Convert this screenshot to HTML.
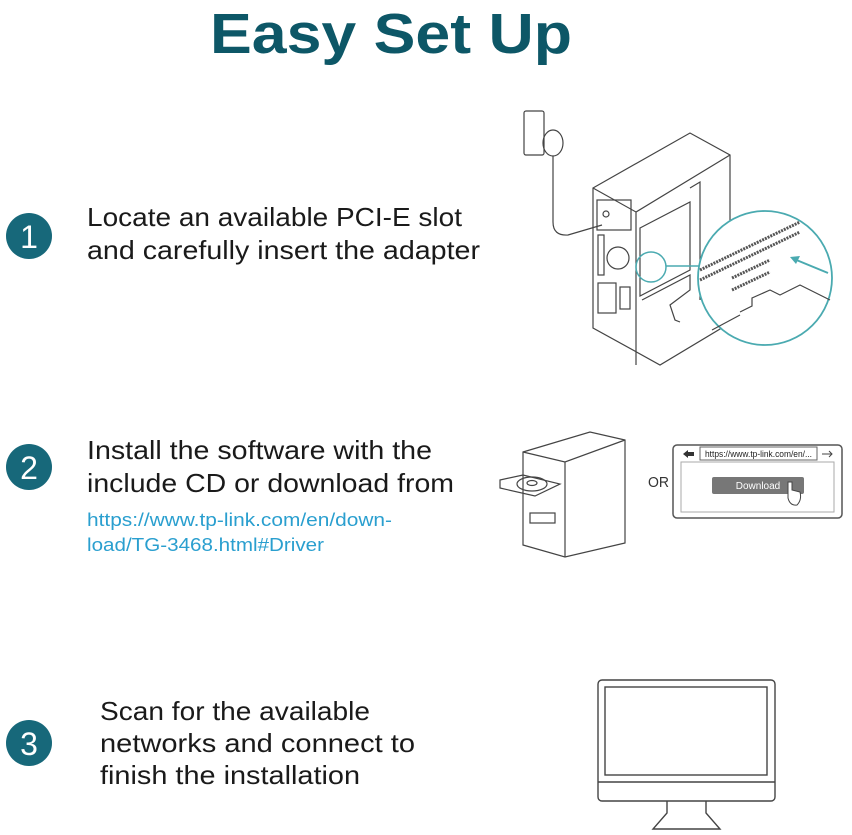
<!DOCTYPE html>
<html><head><meta charset="utf-8"><style>
html,body{margin:0;padding:0;background:#fff;}
svg{display:block;}
text{font-family:"Liberation Sans",sans-serif;}
</style></head><body>
<svg width="852" height="835" viewBox="0 0 852 835" xmlns="http://www.w3.org/2000/svg">
<text x="391" y="53" font-size="57" font-weight="bold" fill="#0d5767" text-anchor="middle" textLength="362" lengthAdjust="spacingAndGlyphs">Easy Set Up</text>

<g fill="#17687a">
<circle cx="29" cy="236" r="23"/><circle cx="29" cy="467" r="23"/><circle cx="29" cy="743" r="23"/>
</g>
<g fill="#fff" font-size="32" text-anchor="middle">
<text x="29" y="248">1</text><text x="29" y="479">2</text><text x="29" y="755">3</text>
</g>
<g fill="#1a1a1a" font-size="26">
<text x="87" y="226" textLength="375" lengthAdjust="spacingAndGlyphs">Locate an available PCI-E slot</text>
<text x="87" y="259" textLength="393" lengthAdjust="spacingAndGlyphs">and carefully insert the adapter</text>
<text x="87" y="459" textLength="345" lengthAdjust="spacingAndGlyphs">Install the software with the</text>
<text x="87" y="492" textLength="367" lengthAdjust="spacingAndGlyphs">include CD or download from</text>
<text x="100" y="720" textLength="270" lengthAdjust="spacingAndGlyphs">Scan for the available</text>
<text x="100" y="752" textLength="315" lengthAdjust="spacingAndGlyphs">networks and connect to</text>
<text x="100" y="784" textLength="260" lengthAdjust="spacingAndGlyphs">finish the installation</text>
</g>
<g fill="#2a9fcf" font-size="18">
<text x="87" y="526" textLength="305" lengthAdjust="spacingAndGlyphs">https://www.tp-link.com/en/down-</text>
<text x="87" y="551" textLength="237" lengthAdjust="spacingAndGlyphs">load/TG-3468.html#Driver</text>
</g>

<!-- Step1 illustration -->
<g fill="none" stroke="#444" stroke-width="1.2">
<rect x="524" y="111" width="20" height="44" rx="2"/>
<ellipse cx="553" cy="143" rx="10" ry="13"/>
<path d="M553 156 V222 Q553 236 568 235 L602 225"/>
<path d="M593 188 L690 133 L730 155 L730 323 L660 365 L593 328 Z"/>
<path d="M593 188 L636 212 L730 155 M636 212 V365"/>
<rect x="597" y="200" width="34" height="30"/>
<circle cx="606" cy="214" r="3"/>
<rect x="598" y="235" width="6" height="40"/>
<circle cx="618" cy="258" r="11"/>
<rect x="598" y="283" width="18" height="30"/>
<rect x="620" y="287" width="10" height="22"/>
<path d="M640 228 L690 202 V270 L640 296 Z"/>
<path d="M690 188 L700 182 V300"/>
<path d="M642 300 L690 275 L690 290 L670 305 L675 320 L680 322"/>
</g>
<circle cx="651" cy="267" r="15" fill="none" stroke="#4aaab0" stroke-width="1.5"/>
<line x1="666" y1="266" x2="705" y2="266" stroke="#4aaab0" stroke-width="1.5"/>
<circle cx="765" cy="278" r="67" fill="#fff" stroke="#4aaab0" stroke-width="1.8"/>
<g fill="none" stroke="#555" stroke-width="3" stroke-dasharray="2 1">
<path d="M700 270 L800 222"/><path d="M700 280 L800 232"/>
<path d="M732 278 L770 260"/><path d="M732 290 L770 272"/>
</g>
<g fill="none" stroke="#444" stroke-width="1.2">
<path d="M740 312 L752 306 V298 L770 290 L780 295 L800 285 L830 300"/>
<path d="M712 330 L740 315"/>
</g>
<path d="M828 273 L794 259" stroke="#4aaab0" stroke-width="2"/>
<path d="M790 257 L800 256 L796 264 Z" fill="#4aaab0"/>

<!-- Step2 CD computer -->
<g fill="none" stroke="#444" stroke-width="1.2">
<path d="M523 452 L590 432 L625 440 L625 543 L565 557 L523 545 Z"/>
<path d="M523 452 L565 462 L625 440 M565 462 V557"/>
<path d="M500 480 L523 475 L560 484 L535 496 L500 488 Z"/>
<ellipse cx="532" cy="484" rx="15" ry="7"/>
<ellipse cx="532" cy="483" rx="5" ry="2.5"/>
<rect x="530" y="513" width="25" height="10"/>
</g>
<text x="648" y="487" font-size="15" fill="#333" textLength="21" lengthAdjust="spacingAndGlyphs">OR</text>
<!-- browser -->
<rect x="673" y="445" width="169" height="73" rx="4" fill="none" stroke="#555" stroke-width="1.5"/>
<rect x="681" y="462" width="153" height="50" fill="none" stroke="#aaa" stroke-width="1"/>
<path d="M683 454 L688 450 V452 H694 V456 H688 V458 Z" fill="#333"/>
<rect x="700" y="447" width="117" height="13" fill="#fff" stroke="#666"/>
<text x="705" y="457" font-size="9" fill="#222" textLength="107" lengthAdjust="spacingAndGlyphs">https://www.tp-link.com/en/...</text>
<path d="M822 454 H832 M829 451 L832 454 L829 457" stroke="#444" fill="none"/>
<rect x="712" y="477" width="92" height="17" rx="2" fill="#777"/>
<text x="758" y="489" font-size="10" fill="#fff" text-anchor="middle">Download</text>
<path d="M788 482 V498 Q790 506 797 505 Q802 500 800 492 L792 490 V482 Z" fill="#fff" stroke="#444"/>

<!-- Step3 monitor -->
<g fill="none" stroke="#444" stroke-width="1.4">
<rect x="598" y="680" width="177" height="121" rx="4"/>
<rect x="605" y="687" width="162" height="88"/>
<line x1="598" y1="782" x2="775" y2="782"/>
<path d="M667 801 V813 L653 829 H720 L706 813 V801"/>
</g>
</svg>
</body></html>
